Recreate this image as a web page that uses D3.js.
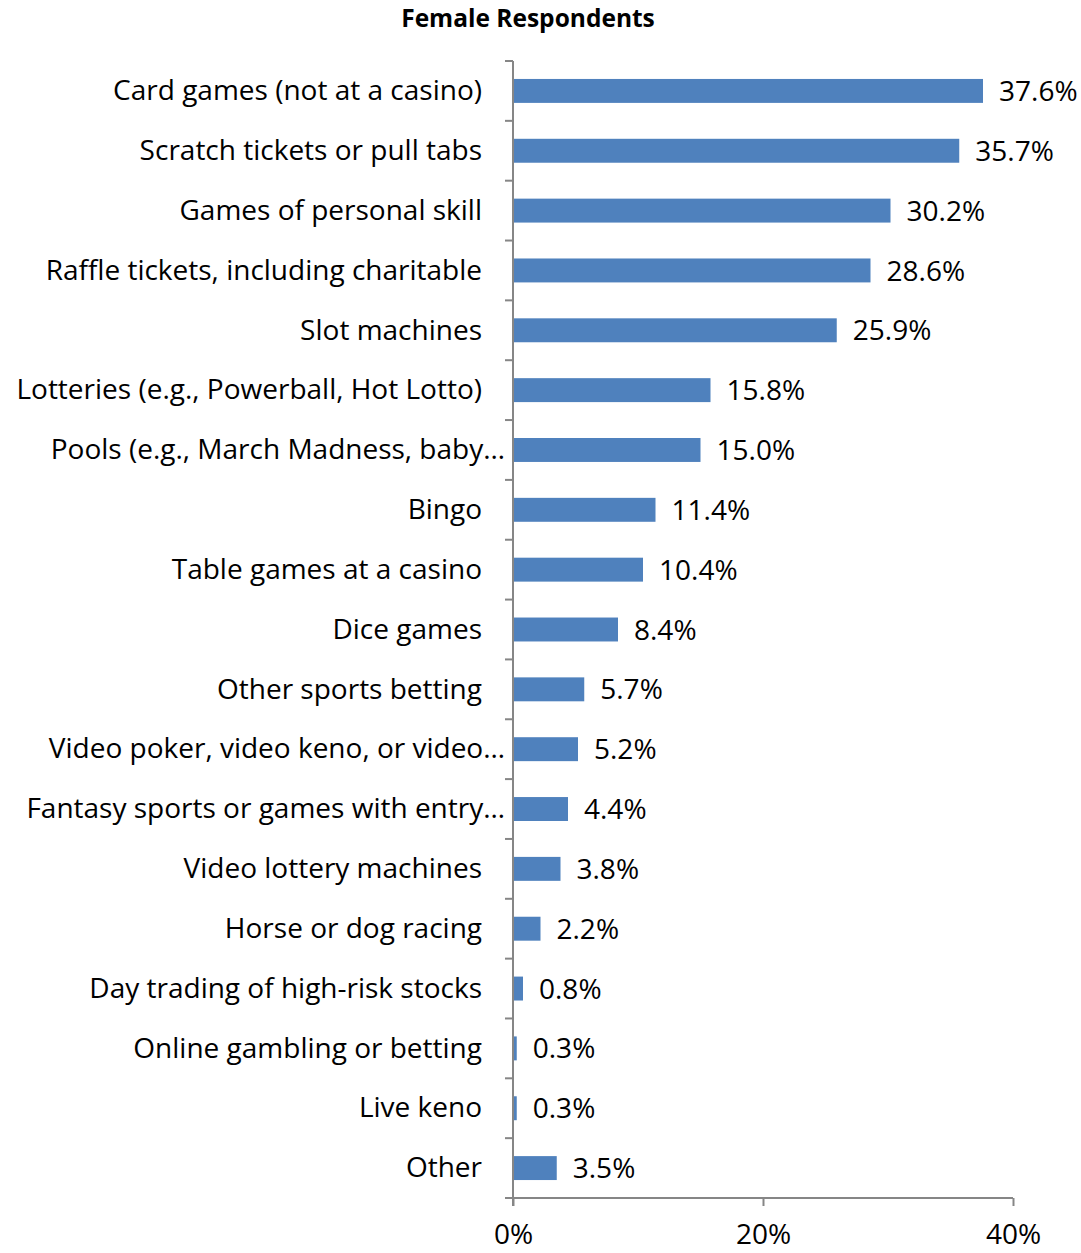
<!DOCTYPE html>
<html>
<head>
<meta charset="utf-8">
<script src="https://cdn.jsdelivr.net/npm/d3@7"></script>
<style>
  html, body { margin: 0; padding: 0; background: #fff; }
  svg { display: block; font-family: "Open Sans", sans-serif; }
</style>
</head>
<body>
<svg id="chart" width="1081" height="1253"></svg>
<script>
// Participation by activity, female respondents (percent)
const categories = [
  "Card games (not at a casino)",
  "Scratch tickets or pull tabs",
  "Games of personal skill",
  "Raffle tickets, including charitable",
  "Slot machines",
  "Lotteries (e.g., Powerball, Hot Lotto)",
  "Pools (e.g., March Madness, baby…",
  "Bingo",
  "Table games at a casino",
  "Dice games",
  "Other sports betting",
  "Video poker, video keno, or video…",
  "Fantasy sports or games with entry…",
  "Video lottery machines",
  "Horse or dog racing",
  "Day trading of high-risk stocks",
  "Online gambling or betting",
  "Live keno",
  "Other"
];
const values = [37.6, 35.7, 30.2, 28.6, 25.9, 15.8, 15.0, 11.4, 10.4, 8.4, 5.7, 5.2, 4.4, 3.8, 2.2, 0.8, 0.3, 0.3, 3.5];
const xTicks = [0, 20, 40];
const title = "Female Respondents";

const svg = d3.select("#chart");
const axisColor = "#868686";
const barColor = "#4F81BD";
const fontSize = 28;

const x = d3.scaleLinear().domain([0, 40]).range([513, 1013]);
const y = d3.scaleBand().domain(categories).range([61, 1198]).paddingInner(0.6).paddingOuter(0.3);
const yb = d3.scaleBand().domain(categories).range([61, 1198]);

// title
svg.append("text")
  .attr("x", 528).attr("y", 27)
  .attr("text-anchor", "middle")
  .attr("font-weight", "bold")
  .attr("font-size", 24.5)
  .attr("fill", "#000")
  .text(title);

// bars
svg.append("g").selectAll("rect")
  .data(categories)
  .join("rect")
  .attr("x", x(0))
  .attr("y", d => y(d))
  .attr("width", (d, i) => x(values[i]) - x(0))
  .attr("height", y.bandwidth())
  .attr("fill", barColor);

// value labels
svg.append("g").selectAll("text")
  .data(categories)
  .join("text")
  .attr("x", (d, i) => x(values[i]) + 16)
  .attr("y", d => yb(d) + yb.bandwidth() / 2)
  .attr("dy", "0.36em")
  .attr("font-size", fontSize)
  .attr("fill", "#000")
  .text((d, i) => values[i].toFixed(1) + "%");

// category axis (left)
const yAxisG = svg.append("g");
yAxisG.append("line")
  .attr("x1", x(0)).attr("x2", x(0))
  .attr("y1", yb.range()[0]).attr("y2", yb.range()[1] + 8)
  .attr("stroke", axisColor).attr("stroke-width", 2);
const boundaries = categories.map(d => yb(d)).concat([yb.range()[1]]);
yAxisG.selectAll("line.tick")
  .data(boundaries)
  .join("line")
  .attr("class", "tick")
  .attr("x1", x(0) - 8).attr("x2", x(0))
  .attr("y1", d => d).attr("y2", d => d)
  .attr("stroke", axisColor).attr("stroke-width", 2);
yAxisG.selectAll("text")
  .data(categories)
  .join("text")
  .attr("x", d => d.endsWith("…") ? 505 : 482)
  .attr("y", d => yb(d) + yb.bandwidth() / 2)
  .attr("dy", "0.33em")
  .attr("text-anchor", "end")
  .attr("font-size", fontSize)
  .attr("fill", "#000")
  .text(d => d);

// value axis (bottom)
const xAxisG = svg.append("g").attr("transform", `translate(0,${yb.range()[1]})`);
xAxisG.call(d3.axisBottom(x).tickValues(xTicks).tickFormat(d => d + "%").tickSize(8));
xAxisG.select(".domain").attr("stroke", axisColor).attr("stroke-width", 2)
  .attr("d", `M${x(0)},0H${x(40)}`);
xAxisG.selectAll(".tick line").attr("stroke", axisColor).attr("stroke-width", 2);
xAxisG.selectAll(".tick text")
  .attr("y", 46)
  .attr("dy", null)
  .attr("font-size", fontSize)
  .attr("font-family", "'Open Sans', sans-serif")
  .attr("fill", "#000");
</script>
</body>
</html>
